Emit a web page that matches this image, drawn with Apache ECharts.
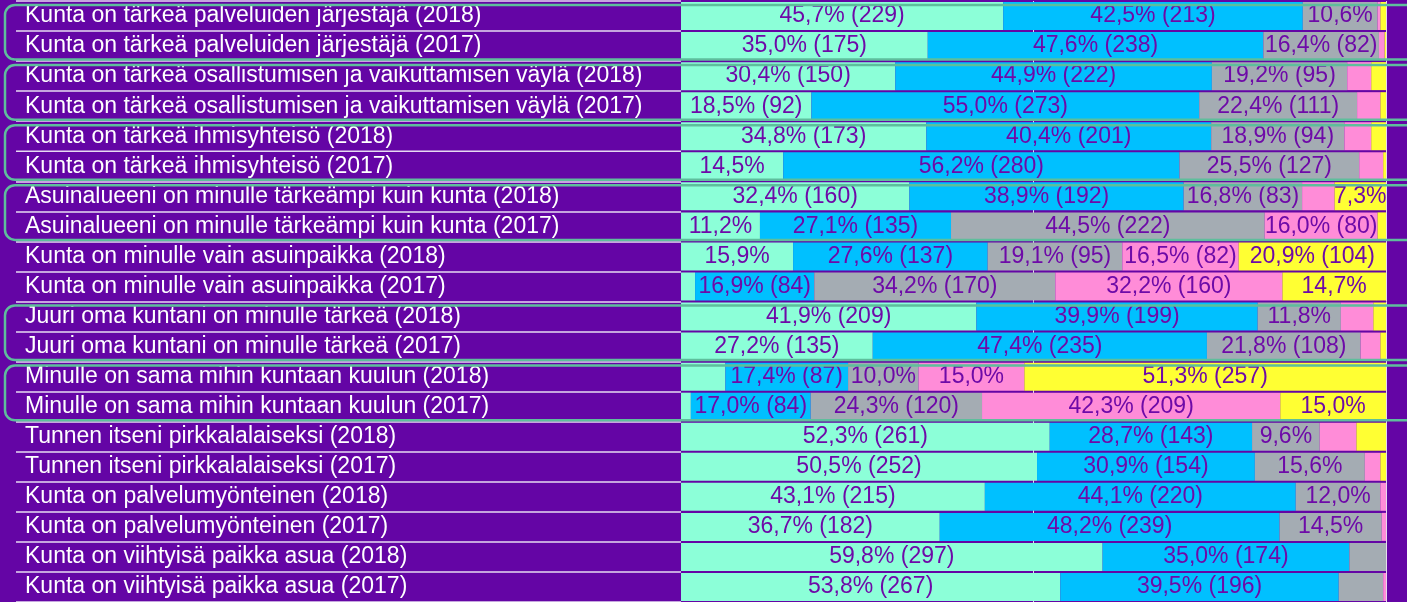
<!DOCTYPE html>
<html>
<head>
<meta charset="utf-8">
<script src="https://cdn.jsdelivr.net/npm/echarts@6/dist/echarts.min.js"></script>
<style>
html,body{margin:0;padding:0;background:#6405A5;}
#main{width:1407px;height:602px;}
</style>
</head>
<body>
<div id="main"></div>
<script>
// rows, top to bottom
var rowNames=[
    "Kunta on tärkeä palveluiden järjestäjä (2018)",
    "Kunta on tärkeä palveluiden järjestäjä (2017)",
    "Kunta on tärkeä osallistumisen ja vaikuttamisen väylä (2018)",
    "Kunta on tärkeä osallistumisen ja vaikuttamisen väylä (2017)",
    "Kunta on tärkeä ihmisyhteisö (2018)",
    "Kunta on tärkeä ihmisyhteisö (2017)",
    "Asuinalueeni on minulle tärkeämpi kuin kunta (2018)",
    "Asuinalueeni on minulle tärkeämpi kuin kunta (2017)",
    "Kunta on minulle vain asuinpaikka (2018)",
    "Kunta on minulle vain asuinpaikka (2017)",
    "Juuri oma kuntani on minulle tärkeä (2018)",
    "Juuri oma kuntani on minulle tärkeä (2017)",
    "Minulle on sama mihin kuntaan kuulun (2018)",
    "Minulle on sama mihin kuntaan kuulun (2017)",
    "Tunnen itseni pirkkalalaiseksi (2018)",
    "Tunnen itseni pirkkalalaiseksi (2017)",
    "Kunta on palvelumyönteinen (2018)",
    "Kunta on palvelumyönteinen (2017)",
    "Kunta on viihtyisä paikka asua (2018)",
    "Kunta on viihtyisä paikka asua (2017)"
];
var answerNames=["Täysin samaa mieltä","Jokseenkin samaa mieltä","Ei samaa eikä eri mieltä","Jokseenkin eri mieltä","Täysin eri mieltä"];

// percentages
var pct1=[45.7,35.0,30.4,18.5,34.8,14.5,32.4,11.2,15.9,2.0,41.9,27.2,6.3,1.4,52.3,50.5,43.1,36.7,59.8,53.8];
var pct2=[42.5,47.6,44.9,55.0,40.4,56.2,38.9,27.1,27.6,16.9,39.9,47.4,17.4,17.0,28.7,30.9,44.1,48.2,35.0,39.5];
var pct3=[10.6,16.4,19.2,22.4,18.9,25.5,16.8,44.5,19.1,34.2,11.8,21.8,10.0,24.3,9.6,15.6,12.0,14.5,5.2,6.3];
var pct4=[0.4,0.8,3.4,3.3,3.8,3.4,4.6,16.0,16.5,32.2,4.6,2.8,15.0,42.3,5.2,2.2,0.8,0.6,0,0.4];
var pct5=[0.8,0.2,2.1,0.8,2.1,0.4,7.3,1.2,20.9,14.7,1.8,0.8,51.3,15.0,4.2,0.8,0,0,0,0];

// answer counts
var cnt1=[229,175,150,92,173,72,160,56,79,10,209,135,32,7,261,252,215,182,297,267];
var cnt2=[213,238,222,273,201,280,192,135,137,84,199,235,87,84,143,154,220,239,174,196];
var cnt3=[53,82,95,111,94,127,83,222,95,170,59,108,50,120,48,78,60,72,26,31];
var cnt4=[2,4,17,16,19,17,23,80,82,160,23,14,75,209,26,11,4,3,0,2];
var cnt5=[4,1,10,4,10,2,36,6,104,73,9,4,257,74,21,4,0,0,0,0];

// rows framed in pairs (first row index of each pair)
var framedRows=[0,2,4,6,10,12];

var colors=["#8CFFD8","#00C0FF","#A4ACB3","#FF8CD8","#FFFF33"];
var textPurple="#6E0AA8";
var bgPurple="#6405A5";

function makeLabel(pct,cnt){
    return function(p){
        var v=pct[p.dataIndex];
        if(v<7) return "";
        var s=v.toFixed(1).replace(".",",")+"%";
        if(v>=16) s+=" ("+cnt[p.dataIndex]+")";
        return s;
    };
}

var pcts=[pct1,pct2,pct3,pct4,pct5];
var cnts=[cnt1,cnt2,cnt3,cnt4,cnt5];
var series=[];
for(var i=0;i<pcts.length;i++){
    series.push({
        name:answerNames[i],
        type:"bar",
        stack:"all",
        barWidth:28,
        data:pcts[i],
        itemStyle:{color:colors[i]},
        label:{
            show:true,
            position:"inside",
            color:textPurple,
            fontFamily:"Liberation Sans",
            fontSize:23,
            formatter:makeLabel(pcts[i],cnts[i])
        }
    });
}

var chart=echarts.init(document.getElementById("main"),null,{renderer:"canvas"});
chart.setOption({
    backgroundColor:bgPurple,
    animation:false,
    grid:{left:681,right:21,top:1,bottom:0},
    xAxis:{
        type:"value",min:0,max:100,interval:50,
        axisLabel:{show:false},axisLine:{show:false},axisTick:{show:false},
        splitLine:{show:true,lineStyle:{color:[bgPurple,"#E4DCEE","#E4DCEE"],width:1}}
    },
    yAxis:{
        type:"category",
        inverse:true,
        data:rowNames,
        axisLine:{show:false},
        axisTick:{show:true,length:665,lineStyle:{color:"#E6DAF2",width:1.5}},
        axisLabel:{
            interval:0,
            align:"left",
            margin:656,
            color:"#FFFFFF",
            fontFamily:"Liberation Sans",
            fontSize:23,
            padding:[6,0,0,0]
        }
    },
    series:series
});

// green frames round the paired rows
function drawFrames(){
    var c0=chart.convertToPixel({yAxisIndex:0},rowNames[0]);
    var c1=chart.convertToPixel({yAxisIndex:0},rowNames[1]);
    var pitch=c1-c0;
    var frames=[];
    for(var k=0;k<framedRows.length;k++){
        var cy=chart.convertToPixel({yAxisIndex:0},rowNames[framedRows[k]]);
        var frameTop=cy-pitch/2+4;
        frames.push({
            type:"rect",
            z:100,
            shape:{x:5,y:frameTop,width:1440,height:2*pitch-5.5,r:10},
            style:{fill:"none",stroke:"#5EBE9C",lineWidth:2.5}
        });
    }
    chart.setOption({graphic:frames});
}
drawFrames();
</script>
</body>
</html>
